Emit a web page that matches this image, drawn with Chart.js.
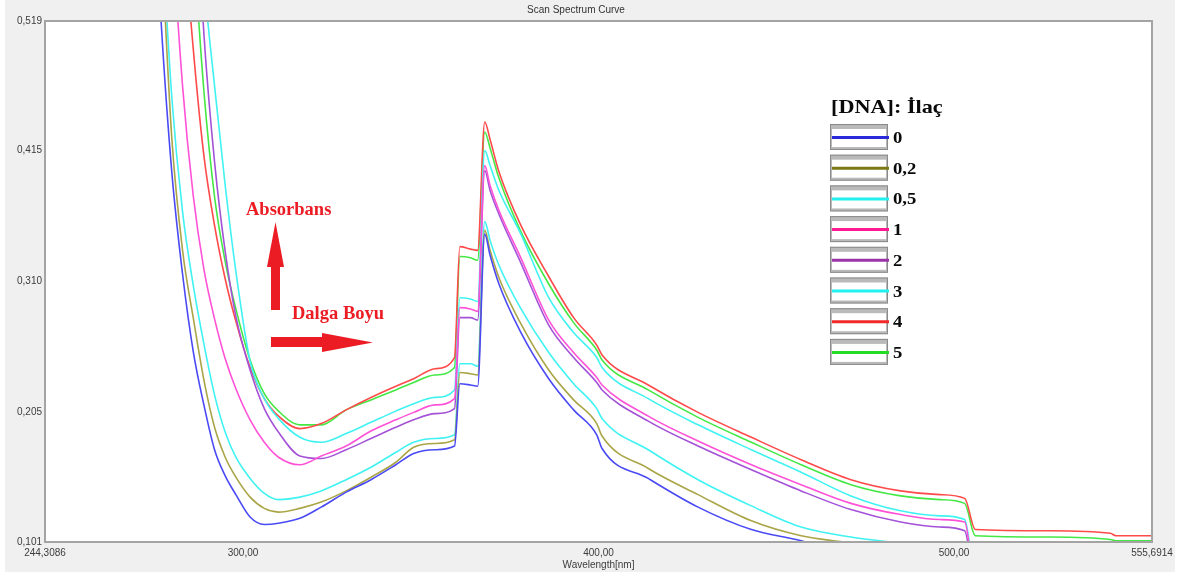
<!DOCTYPE html>
<html>
<head>
<meta charset="utf-8">
<title>Scan Spectrum Curve</title>
<script src="https://cdn.jsdelivr.net/npm/chart.js@4.4.1/dist/chart.umd.min.js"></script>
<style>
  html, body { margin: 0; padding: 0; background: #fff; }
  #wrap { position: relative; width: 1190px; height: 577px; }
</style>
</head>
<body>
<div id="wrap"><canvas id="ch_spectrum" width="1190" height="577"></canvas></div>
<script>
/* Scan Spectrum Curve — DNA : drug titration, absorbance vs wavelength */

// wavelength grid (nm)
const wavelength = [274, 277, 280, 283, 286, 289, 292, 295, 298, 302, 306, 310, 316, 322, 329, 336, 343, 348, 354, 359.5,
  361, 364, 366, 368, 369.5, 372, 378, 386, 393, 399.5, 401, 414, 428, 443, 457, 471, 485, 496, 503, 506, 527, 544, 545.5, 555.7];

// absorbance per [DNA]:drug ratio
const abs0 = [0.680, 0.517, 0.397, 0.316, 0.254, 0.211, 0.175, 0.154, 0.139, 0.121, 0.115, 0.116, 0.120, 0.129, 0.141, 0.151, 0.163, 0.172, 0.175, 0.178,
  0.228, 0.227, 0.226, 0.348, 0.331, 0.308, 0.270, 0.232, 0.207, 0.187, 0.176, 0.152, 0.129, 0.111, 0.102, 0.090, 0.080, 0.074, 0.071, 0.040, 0.037, 0.035, 0.035, 0.034];
const abs02 = [0.740, 0.584, 0.424, 0.335, 0.281, 0.231, 0.193, 0.169, 0.153, 0.137, 0.128, 0.125, 0.128, 0.133, 0.142, 0.153, 0.165, 0.177, 0.180, 0.183,
  0.237, 0.236, 0.235, 0.351, 0.335, 0.313, 0.277, 0.239, 0.215, 0.196, 0.186, 0.160, 0.139, 0.118, 0.106, 0.100, 0.092, 0.088, 0.086, 0.050, 0.047, 0.045, 0.045, 0.044];
const abs05 = [0.760, 0.600, 0.457, 0.366, 0.307, 0.260, 0.219, 0.189, 0.169, 0.152, 0.140, 0.135, 0.137, 0.142, 0.151, 0.161, 0.173, 0.181, 0.184, 0.187,
  0.244, 0.244, 0.242, 0.358, 0.343, 0.323, 0.289, 0.253, 0.228, 0.208, 0.200, 0.175, 0.151, 0.130, 0.113, 0.105, 0.100, 0.096, 0.094, 0.060, 0.057, 0.055, 0.055, 0.054];
const abs1 = [0.950, 0.770, 0.598, 0.467, 0.379, 0.320, 0.280, 0.248, 0.224, 0.199, 0.181, 0.169, 0.163, 0.170, 0.178, 0.190, 0.199, 0.205, 0.211, 0.216,
  0.289, 0.288, 0.286, 0.403, 0.387, 0.367, 0.330, 0.279, 0.253, 0.233, 0.227, 0.202, 0.182, 0.163, 0.147, 0.132, 0.123, 0.119, 0.117, 0.070, 0.068, 0.066, 0.066, 0.065];
const abs2 = [1.500, 1.280, 1.060, 0.860, 0.670, 0.509, 0.406, 0.334, 0.282, 0.239, 0.208, 0.189, 0.170, 0.168, 0.175, 0.184, 0.193, 0.199, 0.204, 0.208,
  0.281, 0.281, 0.279, 0.399, 0.383, 0.364, 0.326, 0.275, 0.249, 0.229, 0.223, 0.198, 0.178, 0.159, 0.142, 0.127, 0.117, 0.113, 0.110, 0.070, 0.068, 0.066, 0.066, 0.065];
const abs3 = [1.500, 1.300, 1.080, 0.880, 0.700, 0.555, 0.467, 0.387, 0.318, 0.246, 0.216, 0.200, 0.185, 0.181, 0.188, 0.197, 0.206, 0.212, 0.217, 0.223,
  0.297, 0.296, 0.294, 0.415, 0.403, 0.383, 0.349, 0.297, 0.269, 0.249, 0.241, 0.216, 0.195, 0.175, 0.157, 0.138, 0.126, 0.122, 0.119, 0.075, 0.073, 0.071, 0.071, 0.070];
const abs4 = [1.120, 0.930, 0.760, 0.607, 0.497, 0.411, 0.355, 0.312, 0.278, 0.241, 0.216, 0.202, 0.192, 0.196, 0.207, 0.217, 0.226, 0.232, 0.240, 0.249,
  0.338, 0.336, 0.335, 0.438, 0.424, 0.398, 0.356, 0.314, 0.281, 0.259, 0.251, 0.227, 0.205, 0.185, 0.167, 0.151, 0.142, 0.139, 0.136, 0.111, 0.110, 0.108, 0.106, 0.106];
const abs5 = [1.300, 1.100, 0.920, 0.750, 0.589, 0.463, 0.378, 0.326, 0.288, 0.247, 0.220, 0.206, 0.195, 0.195, 0.207, 0.215, 0.223, 0.229, 0.235, 0.241,
  0.330, 0.329, 0.327, 0.430, 0.417, 0.393, 0.351, 0.308, 0.277, 0.255, 0.247, 0.223, 0.201, 0.181, 0.163, 0.147, 0.138, 0.135, 0.132, 0.106, 0.105, 0.103, 0.102, 0.102];

const ratioLabels = ['0', '0,2', '0,5', '1', '2', '3', '4', '5'];
const legendTitle = '[DNA]: İlaç';

// axis ticks
const xTickValues = [244.3086, 300, 400, 500, 555.6914];
const xTickLabels = ['244,3086', '300,00', '400,00', '500,00', '555,6914'];
const yTickValues = [0.101, 0.205, 0.310, 0.415, 0.519];
const yTickLabels = ['0,101', '0,205', '0,310', '0,415', '0,519'];

const lineColors   = ['#4a4af5', '#aaa547', '#40f2f2', '#ff52d6', '#a452d8', '#40f2f2', '#ff4a4a', '#44e844'];
const legendColors = ['#2a2ad8', '#7c7a14', '#22f0f0', '#ff1a94', '#9a34a8', '#22f0f0', '#f02a2a', '#22de22'];

const series = [abs0, abs02, abs05, abs1, abs2, abs3, abs4, abs5];

/* ── plugins ─────────────────────────────────────────────── */
const panelBg = {
  id: 'panelBg',
  beforeDraw(chart) {
    const { ctx, chartArea: a } = chart;
    ctx.save();
    ctx.fillStyle = '#f0f0f0';
    ctx.fillRect(5, 0, 1170, 572);
    ctx.fillStyle = '#ffffff';
    ctx.fillRect(a.left, a.top, a.right - a.left, a.bottom - a.top);
    ctx.restore();
  }
};

const plotFrame = {
  id: 'plotFrame',
  afterDatasetsDraw(chart) {
    const { ctx, chartArea: a } = chart;
    ctx.save();
    ctx.strokeStyle = '#a4a4a4';
    ctx.lineWidth = 2;
    ctx.strokeRect(a.left, a.top, a.right - a.left, a.bottom - a.top);
    ctx.restore();
  }
};

function stretchedText(ctx, txt, x, y, sx) {
  ctx.save();
  ctx.translate(x, y);
  ctx.scale(sx, 1);
  ctx.fillText(txt, 0, 0);
  ctx.restore();
}

const notes = {
  id: 'notes',
  afterDraw(chart) {
    const ctx = chart.ctx;
    ctx.save();
    ctx.fillStyle = '#ec1c24';
    ctx.font = 'bold 18.5px "Liberation Serif", "Times New Roman", serif';
    ctx.textBaseline = 'alphabetic';
    ctx.fillText('Absorbans', 246, 215);
    ctx.fillText('Dalga Boyu', 292, 319);
    // up arrow
    ctx.fillRect(271, 266, 9, 44);
    ctx.beginPath();
    ctx.moveTo(267, 267); ctx.lineTo(284, 267); ctx.lineTo(275.5, 222); ctx.closePath();
    ctx.fill();
    // right arrow
    ctx.fillRect(271, 337, 52, 10);
    ctx.beginPath();
    ctx.moveTo(322, 333); ctx.lineTo(322, 352); ctx.lineTo(373, 342.5); ctx.closePath();
    ctx.fill();
    ctx.restore();
  }
};

const legendBox = {
  id: 'legendBox',
  afterDraw(chart) {
    const ctx = chart.ctx;
    const x0 = 830, y0 = 124, w = 58, h = 26, step = 30.7;
    ctx.save();
    ctx.fillStyle = '#0a0a0a';
    ctx.textBaseline = 'alphabetic';
    ctx.font = 'bold 19px "Liberation Serif", "Times New Roman", serif';
    stretchedText(ctx, legendTitle, 831, 113, 1.17);
    ctx.font = 'bold 17px "Liberation Serif", "Times New Roman", serif';
    chart.data.datasets.forEach((ds, i) => {
      const y = y0 + i * step;
      ctx.fillStyle = '#bababa';
      ctx.fillRect(x0, y, w, h);
      ctx.strokeStyle = '#8a8a8a';
      ctx.lineWidth = 1;
      ctx.strokeRect(x0 + 0.5, y + 0.5, w - 1, h - 1);
      ctx.fillStyle = '#ffffff';
      ctx.fillRect(x0 + 2, y + 5, w - 4, h - 8);
      ctx.strokeStyle = ds.legendColor;
      ctx.lineWidth = 3;
      ctx.beginPath();
      ctx.moveTo(x0 + 2, y + h / 2 + 0.5);
      ctx.lineTo(x0 + w + 1, y + h / 2 + 0.5);
      ctx.stroke();
      ctx.fillStyle = '#0a0a0a';
      stretchedText(ctx, ds.label, 893, y + h / 2 + 6, 1.1);
    });
    ctx.restore();
  }
};

/* ── chart ───────────────────────────────────────────────── */
const tickFont = { family: '"Liberation Sans", Arial, sans-serif', size: 10 };

new Chart(document.getElementById('ch_spectrum').getContext('2d'), {
  type: 'line',
  data: {
    datasets: series.map((vals, i) => ({
      label: ratioLabels[i],
      data: wavelength.map((x, j) => ({ x, y: vals[j] })),
      borderColor: lineColors[i],
      legendColor: legendColors[i],
      borderWidth: 1.6,
      pointRadius: 0,
      cubicInterpolationMode: 'monotone',
      fill: false,
      clip: 0
    }))
  },
  options: {
    responsive: false,
    animation: false,
    events: [],
    layout: { padding: { top: 0, right: 38, bottom: 0, left: 0 } },
    plugins: {
      legend: { display: false },
      tooltip: { enabled: false },
      title: {
        display: true,
        text: 'Scan Spectrum Curve',
        color: '#333',
        font: { family: '"Liberation Sans", Arial, sans-serif', size: 10, weight: 'normal' },
        padding: { top: 4, bottom: 5 }
      }
    },
    scales: {
      x: {
        type: 'linear',
        min: 244.3086,
        max: 555.6914,
        grid: { display: false, drawTicks: false },
        border: { display: false },
        afterBuildTicks: s => { s.ticks = xTickValues.map(v => ({ value: v })); },
        afterFit: s => { s.height = 35; },
        ticks: {
          autoSkip: false, maxRotation: 0, padding: 5,
          color: '#3c3c3c', font: tickFont,
          callback: (v, i) => xTickLabels[i]
        },
        title: {
          display: true, text: 'Wavelength[nm]', color: '#3c3c3c',
          font: tickFont, padding: { top: 0, bottom: 6 }
        }
      },
      y: {
        min: 0.101,
        max: 0.519,
        grid: { display: false, drawTicks: false },
        border: { display: false },
        afterBuildTicks: s => { s.ticks = yTickValues.map(v => ({ value: v })); },
        afterFit: s => { s.width = 45; },
        ticks: {
          autoSkip: false, padding: 3,
          color: '#3c3c3c', font: tickFont,
          callback: (v, i) => yTickLabels[i]
        }
      }
    }
  },
  plugins: [panelBg, plotFrame, notes, legendBox]
});
</script>
</body>
</html>
